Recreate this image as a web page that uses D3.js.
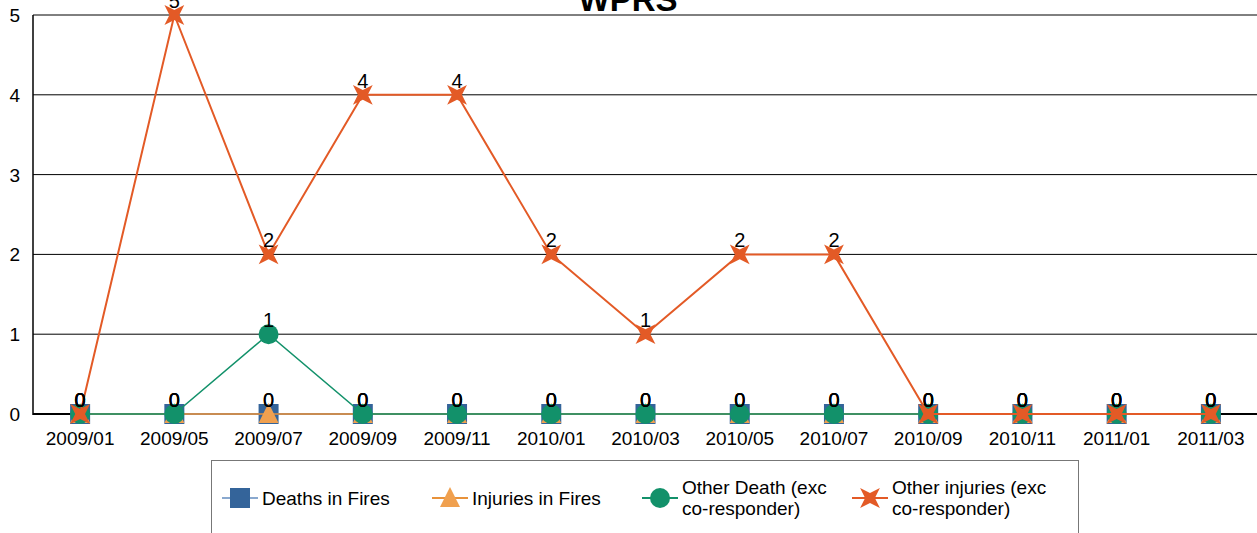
<!DOCTYPE html>
<html>
<head>
<meta charset="utf-8">
<script src="https://cdn.jsdelivr.net/npm/d3@7"></script>
<style>
body { margin: 0; background: #fff; }
svg { font-family: "Liberation Sans", Arial, sans-serif; }
</style>
</head>
<body>
<svg id="chart" width="1257" height="533"></svg>
<script>
var months = ['2009/01', '2009/05', '2009/07', '2009/09', '2009/11', '2010/01', '2010/03',
              '2010/05', '2010/07', '2010/09', '2010/11', '2011/01', '2011/03'];
var deathsInFires = [0, 0, 0, 0, 0, 0, 0, 0, 0, 0, 0, 0, 0];
var injuriesInFires = [0, 0, 0, 0, 0, 0, 0, 0, 0, 0, 0, 0, 0];
var otherDeath = [0, 0, 1, 0, 0, 0, 0, 0, 0, 0, 0, 0, 0];
var otherInjuries = [0, 5, 2, 4, 4, 2, 1, 2, 2, 0, 0, 0, 0];
var yTicks = [0, 1, 2, 3, 4, 5];

var series = [
  {name: ['Deaths in Fires'], values: deathsInFires, color: '#34649a', line: '#8aa9cf', shape: 'square', lx: 240},
  {name: ['Injuries in Fires'], values: injuriesInFires, color: '#f0a04f', line: '#e8923a', shape: 'triangle', lx: 450},
  {name: ['Other Death (exc', 'co-responder)'], values: otherDeath, color: '#12916a', line: '#12916a', shape: 'circle', lx: 660},
  {name: ['Other injuries (exc', 'co-responder)'], values: otherInjuries, color: '#e35a26', line: '#e35a26', shape: 'star', lx: 870}
];

var svg = d3.select('#chart');
var plotLeft = 33, plotRight = 1258, plotTop = 15, plotBottom = 414;

var x = d3.scaleBand().domain(months).range([plotLeft, plotRight]);
var y = d3.scaleLinear().domain([0, 5]).range([plotBottom, plotTop]);
var cx = function(d, i) { return x(months[i]) + x.bandwidth() / 2; };

// grid
svg.selectAll('.grid').data(yTicks).enter().append('line')
  .attr('x1', plotLeft).attr('x2', plotRight)
  .attr('y1', function(d) { return y(d); }).attr('y2', function(d) { return y(d); })
  .attr('stroke', '#000').attr('stroke-width', function(d) { return d == 0 ? 2 : 1; });
svg.append('line').attr('x1', plotLeft).attr('x2', plotLeft).attr('y1', plotTop).attr('y2', plotBottom + 1)
  .attr('stroke', '#000').attr('stroke-width', 1.5);

// y labels
svg.selectAll('.ylab').data(yTicks).enter().append('text')
  .attr('x', 20).attr('y', function(d) { return y(d) + 7; })
  .attr('text-anchor', 'end').attr('font-size', 19).text(function(d) { return d; });

// x labels
svg.selectAll('.xlab').data(months).enter().append('text')
  .attr('x', function(d) { return x(d) + x.bandwidth() / 2; }).attr('y', 445)
  .attr('text-anchor', 'middle').attr('font-size', 19).text(function(d) { return d; });

// title
svg.append('text').attr('x', 628).attr('y', 11).attr('text-anchor', 'middle')
  .attr('font-size', 33).attr('font-weight', 'bold').text('WPRS');

var starPath = function(r) {
  var pts = [], inner = r * 0.35;
  for (var k = 0; k < 8; k++) {
    var a = Math.PI / 4 + k * Math.PI / 4;
    var rr = k % 2 == 0 ? r : inner;
    pts.push([Math.cos(a) * rr, Math.sin(a) * rr]);
  }
  return 'M' + pts.map(function(p) { return p.join(','); }).join('L') + 'Z';
};

var marker = function(g, s, px, py) {
  if (s.shape == 'square') {
    g.append('rect').attr('x', px - 10).attr('y', py - 10).attr('width', 20).attr('height', 20).attr('fill', s.color);
  } else if (s.shape == 'triangle') {
    g.append('path').attr('d', 'M' + px + ',' + (py - 11) + 'L' + (px + 10) + ',' + (py + 9) + 'L' + (px - 10) + ',' + (py + 9) + 'Z')
      .attr('fill', s.color);
  } else if (s.shape == 'circle') {
    g.append('circle').attr('cx', px).attr('cy', py).attr('r', 10).attr('fill', s.color);
  } else {
    g.append('path').attr('d', starPath(14)).attr('transform', 'translate(' + px + ',' + py + ')').attr('fill', s.color);
  }
};

var line = d3.line().x(cx).y(function(d) { return y(d); });

series.forEach(function(s) {
  var g = svg.append('g');
  g.append('path').datum(s.values).attr('d', line).attr('fill', 'none')
    .attr('stroke', s.line).attr('stroke-width', s.shape == 'star' ? 2 : 1.5);
  s.values.forEach(function(v, i) { marker(g, s, cx(v, i), y(v)); });
});

// data labels
series.forEach(function(s) {
  svg.append('g').selectAll('text').data(s.values).enter().append('text')
    .attr('x', cx).attr('y', function(d) { return y(d) - 7; })
    .attr('text-anchor', 'middle').attr('font-size', 20).text(function(d) { return d; });
});

// legend
svg.append('rect').attr('x', 211.5).attr('y', 460.5).attr('width', 867).attr('height', 90)
  .attr('fill', 'none').attr('stroke', '#777').attr('stroke-width', 1);
series.forEach(function(s) {
  var g = svg.append('g');
  g.append('line').attr('x1', s.lx - 18).attr('x2', s.lx + 18).attr('y1', 498).attr('y2', 498)
    .attr('stroke', s.line).attr('stroke-width', 2);
  marker(g, s, s.lx, 498);
  var t = g.append('text').attr('x', s.lx + 22).attr('font-size', 19);
  if (s.name.length == 1) {
    t.attr('y', 505).text(s.name[0]);
  } else {
    t.selectAll('tspan').data(s.name).enter().append('tspan')
      .attr('x', s.lx + 22).attr('y', function(d, i) { return 494 + i * 21; }).text(function(d) { return d; });
  }
});
</script>
</body>
</html>
